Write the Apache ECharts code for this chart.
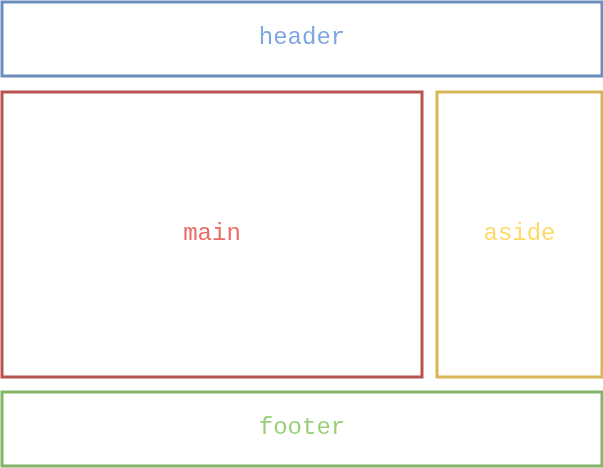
<!DOCTYPE html>
<html>
<head>
<meta charset="utf-8">
<script src="https://cdn.jsdelivr.net/npm/echarts@6/dist/echarts.min.js"></script>
<style>html,body{margin:0;padding:0;background:#fff}#main{width:603px;height:468px}</style>
</head>
<body>
<div id="main"></div>
<script>
// block names and their boxes [x0, y0, x1, y1] in page units
var names = ['header', 'main', 'aside', 'footer'];
var boxes = [
    [2, 2, 602, 76],
    [2, 92, 422, 377],
    [437, 92, 602, 377],
    [2, 392, 602, 466]
];
var strokeColors = ['#6c8ebf', '#b85450', '#d6b656', '#82b366'];
var textColors = ['#7ea6e0', '#ea6b66', '#ffd966', '#97d077'];

var data = names.map(function (n, i) {
    return boxes[i].concat([i]);
});

var myChart = echarts.init(document.getElementById('main'));
var option = {
    animation: false,
    grid: {left: 0, right: 0, top: 0, bottom: 0},
    xAxis: {type: 'value', min: 0, max: 603, show: false},
    yAxis: {type: 'value', min: 0, max: 468, inverse: true, show: false},
    series: [{
        type: 'custom',
        data: data,
        renderItem: function (params, api) {
            var p0 = api.coord([api.value(0), api.value(1)]);
            var p1 = api.coord([api.value(2), api.value(3)]);
            var i = api.value(4);
            return {
                type: 'group',
                children: [{
                    type: 'rect',
                    shape: {x: p0[0], y: p0[1], width: p1[0] - p0[0], height: p1[1] - p0[1]},
                    style: {fill: '#fff', stroke: strokeColors[i], lineWidth: 3}
                }, {
                    type: 'text',
                    style: {
                        x: (p0[0] + p1[0]) / 2,
                        y: (p0[1] + p1[1]) / 2 - 1,
                        text: names[i],
                        fill: textColors[i],
                        font: '24px "Liberation Mono", monospace',
                        align: 'center',
                        verticalAlign: 'middle'
                    }
                }]
            };
        }
    }]
};
myChart.setOption(option);
</script>
</body>
</html>
